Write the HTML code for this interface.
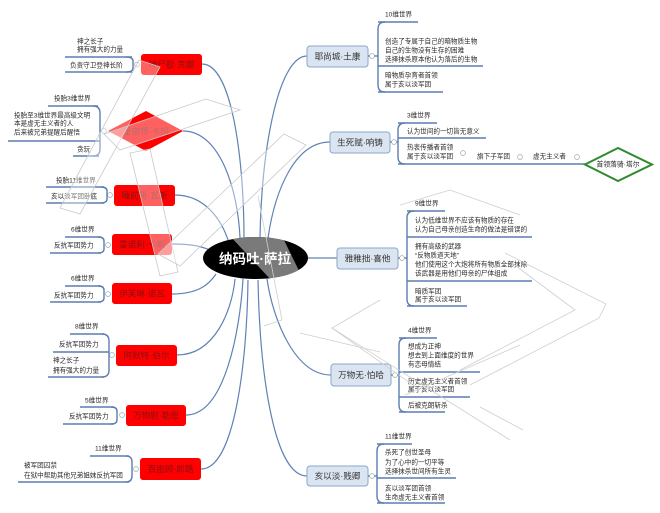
<!DOCTYPE html>
<html><head><meta charset="utf-8"><style>
html,body{margin:0;padding:0;background:#fff;}
svg{display:block;}
text{font-family:"Liberation Sans","Noto Sans CJK SC",sans-serif;}
.lf{font-size:6.6px;fill:#2a2a2a;dominant-baseline:central;}
.ul{stroke:#5b7db1;stroke-width:1.4;fill:none;}
.cn{stroke:#5f82b5;stroke-width:1.2;fill:none;}
.bn{fill:#dbe5f1;stroke:#8aa6cc;stroke-width:1;}
.bt{font-size:8.6px;fill:#333;text-anchor:middle;dominant-baseline:central;}
.rn{fill:#ff0000;}
.rt{font-size:8.6px;fill:#8a1010;text-anchor:middle;dominant-baseline:central;}
.ci{fill:#fff;stroke:#9aa;stroke-width:0.7;}
.ov{fill:rgba(255,255,255,0.38);stroke:#c9c9c9;stroke-width:0.8;}
.ol{fill:none;stroke:#cfcfcf;stroke-width:0.8;}
</style></head><body>
<svg width="660" height="513" viewBox="0 0 660 513" xmlns="http://www.w3.org/2000/svg">
<defs>
<clipPath id="ec"><ellipse cx="255.5" cy="258" rx="52.5" ry="21"/></clipPath>
</defs>

<!-- main connectors -->
<path class="cn" d="M202,64 C232,64 244,160 244,238"/>
<path class="cn" d="M183,131 C220,131 238,190 240,238"/>
<path class="cn" d="M175,195 C205,195 222,220 229,243"/>
<path class="cn" d="M172,244 C192,244 200,246 210,250"/>
<path class="cn" d="M172,294 C200,294 210,283 216,274"/>
<path class="cn" d="M177,355 C215,355 232,310 235,279"/>
<path class="cn" d="M186,415 C225,415 240,330 243,279"/>
<path class="cn" d="M201,469 C235,469 247,360 248,280"/>
<path class="cn" d="M307,56 C280,56 262,140 260,237"/>
<path class="cn" d="M330,142 C295,142 275,190 268,238"/>
<path class="cn" d="M306,258 L337,258"/>
<path class="cn" d="M331,375 C295,375 273,320 267,279"/>
<path class="cn" d="M307,476 C275,476 260,380 258,280"/>

<!-- central node -->
<ellipse cx="255.5" cy="258" rx="52.5" ry="21" fill="#000"/>
<polygon clip-path="url(#ec)" points="230,236 282,236 304,281 272,281" fill="#7a7a7a"/>
<text x="255" y="259" font-size="13.5" font-weight="bold" fill="#fff" text-anchor="middle" dominant-baseline="central">纳码吐·萨拉</text>

<!-- ===== RIGHT SIDE ===== -->
<!-- R1 -->
<rect class="bn" x="307" y="46" width="61" height="21" rx="3"/>
<text class="bt" x="337.5" y="56.5">耶尚城·土康</text>
<line x1="368" y1="56" x2="378" y2="56" class="ul" stroke-width="1"/>
<circle class="ci" cx="372" cy="56" r="2.4"/>
<path class="ul" d="M385,22 Q378,22 378,29 L378,85 Q378,92 385,92"/>
<line class="ul" x1="378" y1="22" x2="418" y2="22"/>
<line class="ul" x1="378" y1="66" x2="483" y2="66"/>
<line class="ul" x1="378" y1="92" x2="443" y2="92"/>
<text class="lf" x="385" y="15">10维世界</text>
<text class="lf" x="385" y="42">创造了专属于自己的暗物质生物</text>
<text class="lf" x="385" y="51">自己的生物没有生存的困难</text>
<text class="lf" x="385" y="60">选择抹杀原本他认为落后的生物</text>
<text class="lf" x="385" y="76">暗物质孕育者首领</text>
<text class="lf" x="385" y="85">属于亥以淡军团</text>

<!-- R2 -->
<rect class="bn" x="330" y="132" width="60" height="21" rx="3"/>
<text class="bt" x="360" y="142.5">生死赋·响铸</text>
<line class="ul" x1="390" y1="142" x2="398" y2="142" stroke-width="1"/>
<circle class="ci" cx="394" cy="142" r="2.4"/>
<path class="ul" d="M405,123 Q398,123 398,130 L398,157 Q398,164 405,164"/>
<line class="ul" x1="398" y1="123" x2="437" y2="123"/>
<line class="ul" x1="398" y1="138" x2="486" y2="138"/>
<line class="ul" x1="398" y1="164" x2="585" y2="164"/>
<text class="lf" x="407" y="116">3维世界</text>
<text class="lf" x="407" y="132">认为世间的一切皆无意义</text>
<text class="lf" x="407" y="148">热衷传播者首领</text>
<text class="lf" x="407" y="157">属于亥以淡军团</text>
<circle class="ci" cx="463" cy="153" r="2.4"/>
<text class="lf" x="477" y="157">旗下子军团</text>
<circle class="ci" cx="520" cy="157" r="2.4"/>
<text class="lf" x="533" y="157">虚无主义者</text>
<circle class="ci" cx="577" cy="157" r="2.4"/>
<polygon points="585,164.5 618,148 652,164.5 618,181" fill="#fff" stroke="#2e8b2e" stroke-width="2"/>
<text x="618" y="165" font-size="6.8" fill="#222" text-anchor="middle" dominant-baseline="central">首领落骑·塔尔</text>

<!-- R3 -->
<rect class="bn" x="337" y="248" width="61" height="21" rx="3"/>
<text class="bt" x="367.5" y="258.5">雅稚拙·喜他</text>
<line class="ul" x1="398" y1="258" x2="407" y2="258" stroke-width="1"/>
<circle class="ci" cx="402" cy="258" r="2.4"/>
<path class="ul" d="M414,211 Q407,211 407,218 L407,299 Q407,306 414,306"/>
<line class="ul" x1="407" y1="211" x2="445" y2="211"/>
<line class="ul" x1="407" y1="237" x2="532" y2="237"/>
<line class="ul" x1="407" y1="281" x2="532" y2="281"/>
<line class="ul" x1="407" y1="306" x2="467" y2="306"/>
<text class="lf" x="415" y="204">9维世界</text>
<text class="lf" x="415" y="221">认为低维世界不应该有物质的存在</text>
<text class="lf" x="415" y="230">认为自己母亲创造生命的做法是错误的</text>
<text class="lf" x="415" y="247">拥有高级的武器</text>
<text class="lf" x="415" y="256">“反物质道天地”</text>
<text class="lf" x="415" y="265">他们使用这个大炮将所有物质全部抹除</text>
<text class="lf" x="415" y="274">该武器是用他们母亲的尸体组成</text>
<text class="lf" x="415" y="292">暗质军团</text>
<text class="lf" x="415" y="300">属于亥以淡军团</text>

<!-- R4 -->
<rect class="bn" x="331" y="364" width="60" height="22" rx="3"/>
<text class="bt" x="361" y="375">万物无·怕哈</text>
<line class="ul" x1="391" y1="375" x2="399" y2="375" stroke-width="1"/>
<circle class="ci" cx="395" cy="375" r="2.4"/>
<path class="ul" d="M406,338 Q399,338 399,345 L399,405 Q399,412 406,412"/>
<line class="ul" x1="399" y1="338" x2="437" y2="338"/>
<line class="ul" x1="399" y1="372" x2="480" y2="372"/>
<line class="ul" x1="399" y1="397" x2="470" y2="397"/>
<line class="ul" x1="399" y1="412" x2="445" y2="412"/>
<text class="lf" x="408" y="331">4维世界</text>
<text class="lf" x="408" y="347">想成为正神</text>
<text class="lf" x="408" y="356">想去到上面维度的世界</text>
<text class="lf" x="408" y="365">有恋母情结</text>
<text class="lf" x="408" y="382">历史虚无主义者首领</text>
<text class="lf" x="408" y="390">属于亥以淡军团</text>
<text class="lf" x="408" y="406">后被克朗斩杀</text>

<!-- R5 -->
<rect class="bn" x="307" y="466" width="61" height="20" rx="3"/>
<text class="bt" x="337.5" y="476">亥以淡·贱卿</text>
<line class="ul" x1="368" y1="476" x2="377" y2="476" stroke-width="1"/>
<circle class="ci" cx="372" cy="476" r="2.4"/>
<path class="ul" d="M384,444 Q377,444 377,451 L377,496 Q377,503 384,503"/>
<line class="ul" x1="377" y1="444" x2="412" y2="444"/>
<line class="ul" x1="377" y1="478" x2="456" y2="478"/>
<line class="ul" x1="377" y1="503" x2="445" y2="503"/>
<text class="lf" x="385" y="437">11维世界</text>
<text class="lf" x="385" y="453">杀死了创世圣母</text>
<text class="lf" x="385" y="463">为了心中的一切平等</text>
<text class="lf" x="385" y="472">选择抹杀世间所有生灵</text>
<text class="lf" x="385" y="489">亥以淡军团首领</text>
<text class="lf" x="385" y="498">生命虚无主义者首领</text>

<!-- ===== LEFT SIDE ===== -->
<!-- L1 -->
<rect class="rn" x="141" y="54" width="61" height="21" rx="3"/>
<text class="rt" x="171.5" y="64.5">神尸歇·克娜</text>
<circle class="ci" cx="137" cy="64.5" r="2.4"/>
<path class="ul" d="M126,57 Q133,57 133,61 L133,68 Q133,72 126,72"/>
<line class="ul" x1="65" y1="57" x2="132" y2="57"/>
<line class="ul" x1="65" y1="72" x2="132" y2="72"/>
<text class="lf" x="77" y="42">神之长子</text>
<text class="lf" x="77" y="50">拥有强大的力量</text>
<text class="lf" x="70" y="66">负责守卫登神长阶</text>

<!-- L2 diamond -->
<polygon class="rn" points="108,131 146,111 183,131 146,151"/>
<text class="rt" x="146" y="131.5">星宿师·卡玛</text>
<circle class="ci" cx="104" cy="131" r="2.4"/>
<path class="ul" d="M93,106 Q100,106 100,113 L100,149 Q100,156 93,156"/>
<line class="ul" x1="48" y1="106" x2="98" y2="106"/>
<line class="ul" x1="8" y1="141" x2="100" y2="141"/>
<line class="ul" x1="73" y1="156" x2="99" y2="156"/>
<text class="lf" x="54" y="99">投胎3维世界</text>
<text class="lf" x="14" y="116">投胎至3维世界最高级文明</text>
<text class="lf" x="14" y="124">本是虚无主义者的人</text>
<text class="lf" x="14" y="133">后来被兄弟提醒后醒悟</text>
<text class="lf" x="77" y="150">贪玩</text>

<!-- L3 -->
<rect class="rn" x="114" y="185" width="61" height="21" rx="3"/>
<text class="rt" x="144.5" y="195.5">睡前哥·瓦斯</text>
<circle class="ci" cx="110" cy="195" r="2.4"/>
<path class="ul" d="M101,187 Q107,187 107,191 L107,199 Q107,203 101,203"/>
<line class="ul" x1="46" y1="187" x2="104" y2="187"/>
<line class="ul" x1="46" y1="203" x2="104" y2="203"/>
<text class="lf" x="56" y="181">投胎11维世界</text>
<text class="lf" x="51" y="197">亥以淡军团卧底</text>

<!-- L4 -->
<rect class="rn" x="112" y="234" width="60" height="21" rx="3"/>
<text class="rt" x="142" y="244.5">雷诺利·卡斯</text>
<circle class="ci" cx="108" cy="245" r="2.4"/>
<path class="ul" d="M98,237 Q104,237 104,241 L104,249 Q104,253 98,253"/>
<line class="ul" x1="65" y1="237" x2="101" y2="237"/>
<line class="ul" x1="50" y1="253" x2="101" y2="253"/>
<text class="lf" x="71" y="230">6维世界</text>
<text class="lf" x="54" y="246">反抗军团势力</text>

<!-- L5 -->
<rect class="rn" x="112" y="283" width="60" height="21" rx="3"/>
<text class="rt" x="142" y="293.5">伊芙琳·诺瓦</text>
<circle class="ci" cx="108" cy="294" r="2.4"/>
<path class="ul" d="M98,286 Q104,286 104,290 L104,298 Q104,302 98,302"/>
<line class="ul" x1="65" y1="286" x2="101" y2="286"/>
<line class="ul" x1="50" y1="302" x2="101" y2="302"/>
<text class="lf" x="71" y="279">6维世界</text>
<text class="lf" x="54" y="296">反抗军团势力</text>

<!-- L6 -->
<rect class="rn" x="116" y="345" width="61" height="21" rx="3"/>
<text class="rt" x="146.5" y="355.5">阿默特·伯尔</text>
<circle class="ci" cx="112" cy="355" r="2.4"/>
<path class="ul" d="M102,334 Q109,334 109,341 L109,370 Q109,377 102,377"/>
<line class="ul" x1="70" y1="334" x2="104" y2="334"/>
<line class="ul" x1="53" y1="352" x2="109" y2="352"/>
<line class="ul" x1="48" y1="377" x2="104" y2="377"/>
<text class="lf" x="75" y="327">8维世界</text>
<text class="lf" x="59" y="345">反抗军团势力</text>
<text class="lf" x="53" y="361">神之长子</text>
<text class="lf" x="53" y="371">拥有强大的力量</text>

<!-- L7 -->
<rect class="rn" x="126" y="405" width="60" height="21" rx="3"/>
<text class="rt" x="156" y="415.5">万物剧·勒恩</text>
<circle class="ci" cx="122" cy="415" r="2.4"/>
<path class="ul" d="M111,407 Q117,407 117,411 L117,420 Q117,424 111,424"/>
<line class="ul" x1="80" y1="407" x2="114" y2="407"/>
<line class="ul" x1="63" y1="424" x2="114" y2="424"/>
<text class="lf" x="85" y="401">5维世界</text>
<text class="lf" x="69" y="417">反抗军团势力</text>

<!-- L8 -->
<rect class="rn" x="140" y="458" width="61" height="22" rx="3"/>
<text class="rt" x="170.5" y="469">百亩顾·郎路</text>
<circle class="ci" cx="136" cy="469" r="2.4"/>
<path class="ul" d="M126,456 Q132,456 132,462 L132,476 Q132,482 126,482"/>
<line class="ul" x1="90" y1="456" x2="129" y2="456"/>
<line class="ul" x1="18" y1="482" x2="129" y2="482"/>
<text class="lf" x="95" y="449">11维世界</text>
<text class="lf" x="24" y="466">被军团囚禁</text>
<text class="lf" x="24" y="476">在狱中帮助其他兄弟姐妹反抗军团</text>

<!-- ===== translucent overlay bands ===== -->
<polygon class="ov" points="139,60 160,67 80,214 60,208"/>
<polygon class="ov" points="206,99 240,110 120,150 104,134"/>
<polygon class="ov" points="130,153 150,149 178,272 160,276"/>
<polygon class="ov" points="158,254 284,134 306,145 180,266"/>
<polyline class="ol" points="258,196 282,320 264,326"/>
<polyline class="ol" points="380,300 332,328 420,390"/>
<polyline class="ol" points="380,352 300,333"/>
<polyline class="ol" points="505,253 606,304 599,318 470,385"/>
<polyline class="ol" points="512,263 575,310 460,370"/>
<polyline class="ol" points="480,407 523,430"/>
<polyline class="ol" points="332,328 510,440"/>
<polyline class="ol" points="405,395 520,345"/>
<polyline class="ol" points="400,205 450,190 520,215"/>
</svg>
</body></html>
